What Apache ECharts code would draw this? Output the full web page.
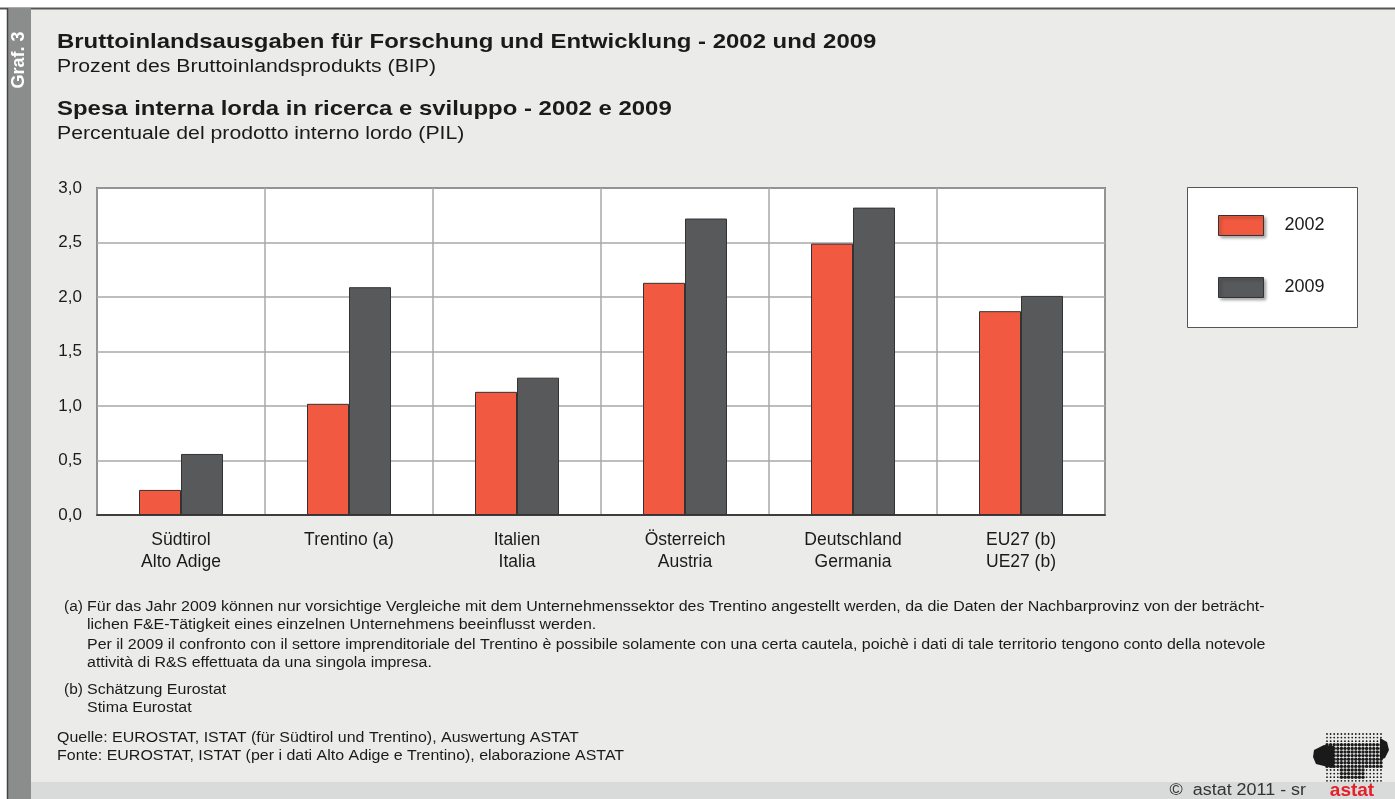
<!DOCTYPE html>
<html><head><meta charset="utf-8">
<script src="https://cdn.jsdelivr.net/npm/echarts@6/dist/echarts.min.js"></script>
<style>html,body{margin:0;padding:0;background:#fff}#c{width:1395px;height:799px}</style>
</head><body><div id="c"></div>
<script>
const categories = ['Südtirol\nAlto Adige', 'Trentino (a)', 'Italien\nItalia', 'Österreich\nAustria', 'Deutschland\nGermania', 'EU27 (b)\nUE27 (b)'];
const v2002 = [0.23, 1.02, 1.13, 2.13, 2.49, 1.87];
const v2009 = [0.56, 2.09, 1.26, 2.72, 2.82, 2.01];
const yTicks = ['0,0', '0,5', '1,0', '1,5', '2,0', '2,5', '3,0'];
const seriesNames = ['2002', '2009'];

const FONT = 'Liberation Sans, Arial, sans-serif';
const chart = echarts.init(document.getElementById('c'));

function txt(x, y, s, size, opts) {
  opts = opts || {};
  return { type: 'text', x: x, y: y, scaleX: opts.sx || 1, silent: true,
    style: { text: s, fill: opts.fill || '#1a1a1a', font: (opts.bold ? 'bold ' : '') + size + 'px ' + FONT,
      align: opts.align || 'left', verticalAlign: 'middle' } };
}

// decorative logo dots
const logo = [];
for (let r = 0; r < 14; r++) {
  for (let c = 0; c < 16; c++) {
    const x = 1327 + c * 3.6, y = 734 + r * 3.6;
    const inBlob = (r >= 3 && r <= 9) || (r > 9 && c >= 4 && c <= 10 && r <= 12);
    logo.push({ type: 'circle', shape: { cx: x, cy: y, r: inBlob ? 1.7 : 0.9 }, style: { fill: '#1a1a1a' }, silent: true });
  }
}
logo.push({ type: 'polygon', shape: { points: [[1314,750],[1324,745],[1334,746],[1334,768],[1324,766],[1316,764],[1313,757]] }, style: { fill: '#1a1a1a' }, silent: true });
logo.push({ type: 'polygon', shape: { points: [[1380,738],[1387,742],[1389,750],[1385,758],[1380,760]] }, style: { fill: '#1a1a1a' }, silent: true });

const FN = 14, FSX = 1.14;
chart.setOption({
  backgroundColor: '#ebecea',
  animation: false,
  textStyle: { fontFamily: FONT },
  graphic: [
    { type: 'rect', shape: { x: 0, y: 0, width: 1395, height: 8 }, style: { fill: '#ffffff' }, silent: true },
    { type: 'rect', shape: { x: 0, y: 0, width: 7, height: 799 }, style: { fill: '#ffffff' }, silent: true },
    { type: 'line', shape: { x1: 0, y1: 8.5, x2: 1395, y2: 8.5 }, style: { stroke: '#555', lineWidth: 2 }, silent: true },
    { type: 'rect', shape: { x: 7, y: 8, width: 24, height: 791 }, style: { fill: '#8b8c8c' }, silent: true },
    { type: 'line', shape: { x1: 7.5, y1: 8, x2: 7.5, y2: 799 }, style: { stroke: '#444', lineWidth: 1.5 }, silent: true },
    { type: 'text', x: 19, y: 60, rotation: Math.PI / 2, silent: true, style: { text: 'Graf. 3', fill: '#ffffff', font: 'bold 18px ' + FONT, align: 'center', verticalAlign: 'middle' } },
    txt(57, 42, 'Bruttoinlandsausgaben für Forschung und Entwicklung - 2002 und 2009', 21, { bold: true, sx: 1.14 }),
    txt(57, 67, 'Prozent des Bruttoinlandsprodukts (BIP)', 18, { sx: 1.18 }),
    txt(57, 109, 'Spesa interna lorda in ricerca e sviluppo - 2002 e 2009', 21, { bold: true, sx: 1.14 }),
    txt(57, 134, 'Percentuale del prodotto interno lordo (PIL)', 18, { sx: 1.18 }),
    { type: 'rect', shape: { x: 31, y: 782, width: 1364, height: 17 }, style: { fill: '#d9dada' }, silent: true },
    txt(1306, 791, '©  astat 2011 - sr', 16, { align: 'right', fill: '#333', sx: 1.12 }),
    ...logo,
    txt(1352, 791, 'astat', 19, { bold: true, align: 'center', fill: '#e4202a' }),
    { type: 'rect', shape: { x: 1187.5, y: 187.5, width: 170, height: 140 }, style: { fill: '#ffffff', stroke: '#555', lineWidth: 1 }, z: 0, silent: true },
    txt(64, 607, '(a)', FN, { sx: 1.1 }),
    txt(87, 607, 'Für das Jahr 2009 können nur vorsichtige Vergleiche mit dem Unternehmenssektor des Trentino angestellt werden, da die Daten der Nachbarprovinz von der beträcht-', FN, { sx: FSX }),
    txt(87, 625, 'lichen F&E-Tätigkeit eines einzelnen Unternehmens beeinflusst werden.', FN, { sx: FSX }),
    txt(87, 645, 'Per il 2009 il confronto con il settore imprenditoriale del Trentino è possibile solamente con una certa cautela, poichè i dati di tale territorio tengono conto della notevole', FN, { sx: FSX }),
    txt(87, 663, 'attività di R&S effettuata da una singola impresa.', FN, { sx: FSX }),
    txt(64, 690, '(b)', FN, { sx: 1.1 }),
    txt(87, 690, 'Schätzung Eurostat', FN, { sx: FSX }),
    txt(87, 708, 'Stima Eurostat', FN, { sx: FSX }),
    txt(57, 738, 'Quelle: EUROSTAT, ISTAT (für Südtirol und Trentino), Auswertung ASTAT', FN, { sx: FSX }),
    txt(57, 756, 'Fonte: EUROSTAT, ISTAT (per i dati Alto Adige e Trentino), elaborazione ASTAT', FN, { sx: FSX })
  ],
  legend: {
    orient: 'vertical', left: 1213, top: 210, itemWidth: 45, itemHeight: 20, itemGap: 41,
    icon: 'rect', z: 10,
    data: seriesNames,
    itemStyle: { borderColor: '#333', borderWidth: 1, shadowBlur: 3, shadowColor: 'rgba(0,0,0,0.35)', shadowOffsetX: 2, shadowOffsetY: 2 },
    textStyle: { fontFamily: FONT, fontSize: 18, color: '#1a1a1a', padding: [0, 0, 0, 16] }
  },
  grid: { left: 97, right: 290, top: 188, bottom: 284, show: true, backgroundColor: '#ffffff', borderColor: '#222', borderWidth: 1.5 },
  xAxis: {
    type: 'category', data: categories,
    axisTick: { show: false },
    axisLine: { show: true, lineStyle: { color: '#222', width: 1.5 } },
    splitLine: { show: true, interval: 0, lineStyle: { color: '#a8a8a8', width: 1.5 } },
    axisLabel: { fontFamily: FONT, fontSize: 17.5, color: '#1a1a1a', lineHeight: 22, margin: 14, interval: 0 }
  },
  yAxis: {
    type: 'value', min: 0, max: 3, interval: 0.5,
    axisLine: { show: false }, axisTick: { show: false },
    splitLine: { lineStyle: { color: '#a8a8a8', width: 1.5 } },
    axisLabel: { fontFamily: FONT, fontSize: 17, color: '#1a1a1a', margin: 15, formatter: (v) => yTicks[Math.round(v * 2)] }
  },
  series: [
    { name: seriesNames[0], type: 'bar', data: v2002, barGap: '0%', barCategoryGap: '50%', itemStyle: { color: '#f15a40', borderColor: '#333', borderWidth: 1 } },
    { name: seriesNames[1], type: 'bar', data: v2009, itemStyle: { color: '#58595b', borderColor: '#333', borderWidth: 1 } }
  ]
});
</script></body></html>
